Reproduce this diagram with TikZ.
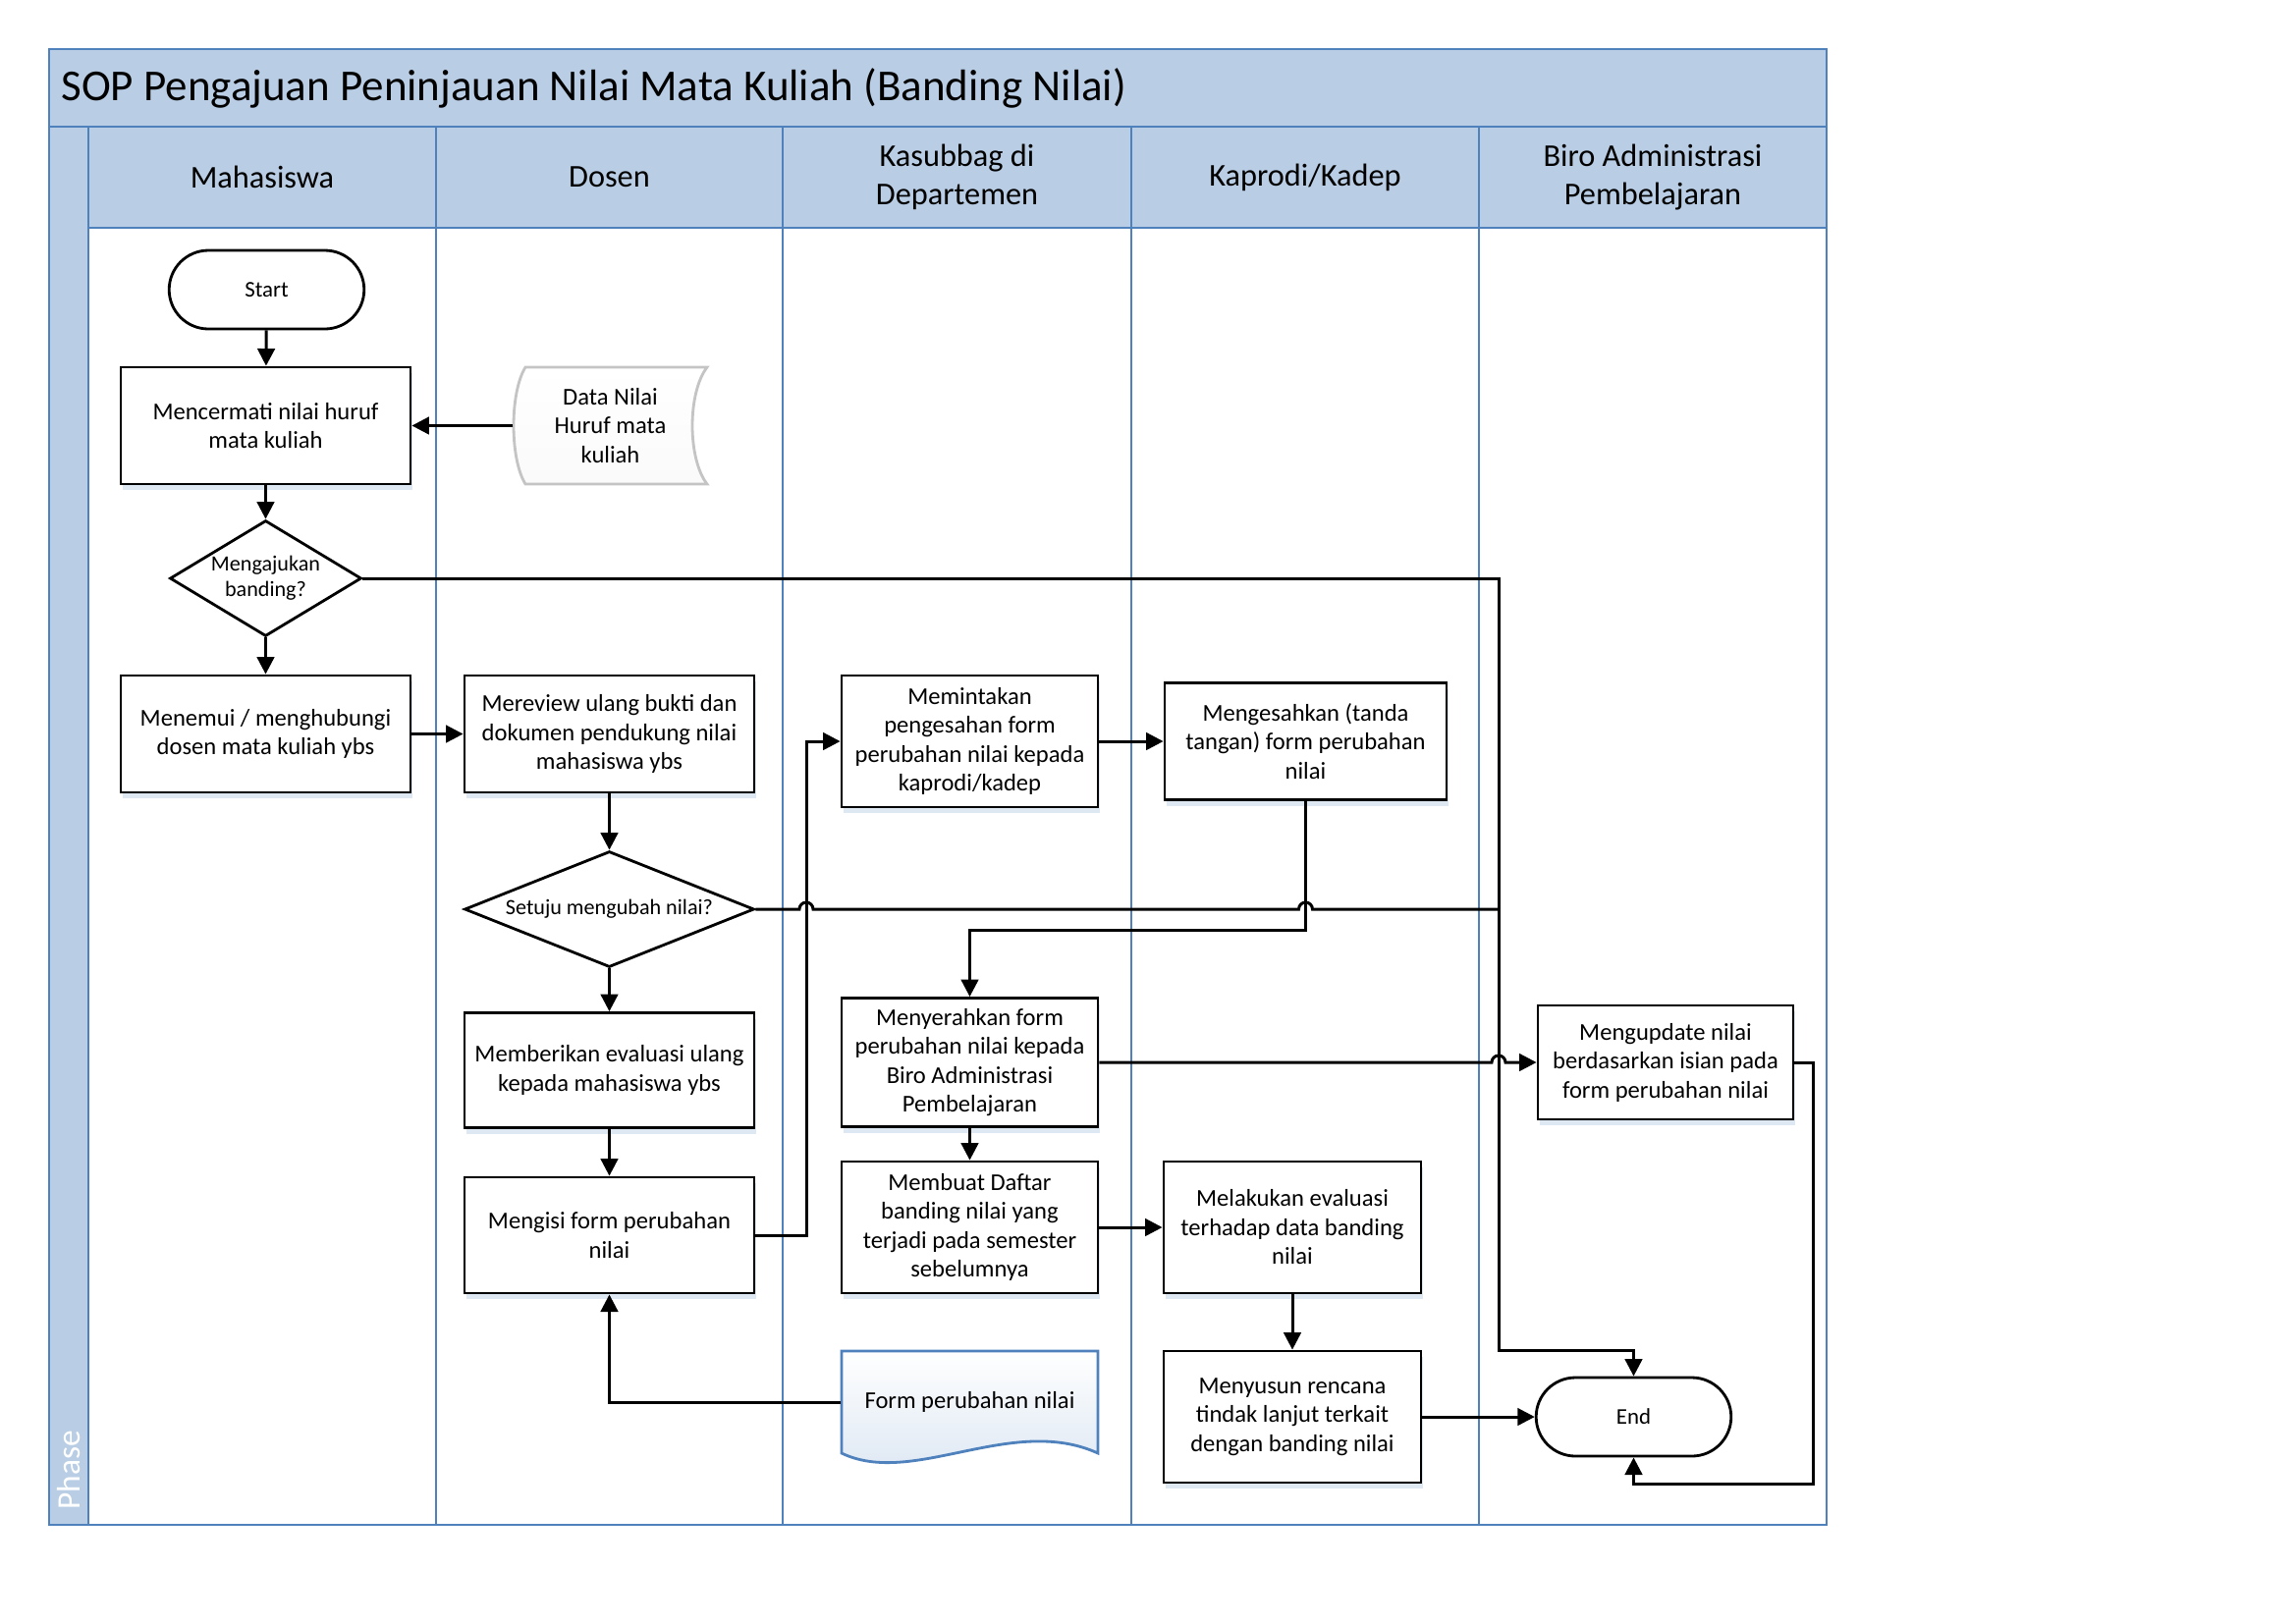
\documentclass[tikz,border=0pt]{standalone}
\usepackage{fontspec}
\setmainfont{Carlito}
\usetikzlibrary{arrows.meta,shapes.geometric,shapes.misc,calc,shadows}
\definecolor{lanefill}{RGB}{185,205,229}
\definecolor{laneline}{RGB}{79,129,189}
\definecolor{docgrey}{RGB}{196,196,196}
\definecolor{docblue}{RGB}{218,229,242}
\definecolor{shadowblue}{RGB}{222,232,243}

\begin{document}
\begin{tikzpicture}[
    box/.style={draw, line width=0.8pt, fill=white, align=center, inner sep=1pt,
        font=\fontsize{7}{8.4}\selectfont,
        drop shadow={shadow xshift=0.5pt, shadow yshift=-1.8pt, fill=shadowblue, opacity=1}},
    term/.style={rounded rectangle, draw, line width=0.8pt, fill=white,
        minimum width=2.22cm, minimum height=0.80cm, font=\fontsize{6.5}{8}\selectfont},
    decision/.style={diamond, draw, line width=0.8pt, fill=white, inner sep=0pt,
        align=center, font=\fontsize{6.3}{7.4}\selectfont},
    doctext/.style={align=center, inner sep=0pt, font=\fontsize{7}{8.4}\selectfont},
    lane/.style={draw=laneline, line width=0.8pt},
    thinlane/.style={draw=laneline, line width=0.5pt},
    head/.style={align=center, font=\fontsize{9.2}{11}\selectfont},
    line/.style={line width=0.85pt},
    flow/.style={line width=0.85pt, -{Triangle[length=5pt,width=5pt]}}
]
\useasboundingbox (0,0) rectangle (23.38,-16.53);

\fill[lanefill] (0.50,-0.50) rectangle (18.60,-2.32);
\fill[lanefill] (0.50,-2.32) rectangle (0.90,-15.53);
\draw[lane] (0.50,-0.50) rectangle (18.60,-15.53);
\draw[lane] (0.50,-1.29) -- (18.60,-1.29);
\draw[lane] (0.90,-2.32) -- (18.60,-2.32);
\draw[lane] (0.90,-1.29) -- (0.90,-15.53);
\draw[thinlane] (4.44,-1.29) -- (4.44,-15.53);
\draw[thinlane] (7.97,-1.29) -- (7.97,-15.53);
\draw[thinlane] (11.52,-1.29) -- (11.52,-15.53);
\draw[thinlane] (15.06,-1.29) -- (15.06,-15.53);

\node[anchor=west, font=\fontsize{12.8}{15}\selectfont] (judul) at (0.50,-0.895) {SOP Pengajuan Peninjauan Nilai Mata Kuliah (Banding Nilai)};
\node[head] (mhs) at (2.67,-1.805) {Mahasiswa};
\node[head] (dosen) at (6.205,-1.805) {Dosen};
\node[head] (kasubbag) at (9.745,-1.805) {Kasubbag di\\Departemen};
\node[head] (kaprodi) at (13.29,-1.805) {Kaprodi/Kadep};
\node[head] (biro) at (16.83,-1.805) {Biro Administrasi\\Pembelajaran};
\node[rotate=90, anchor=west, text=white, font=\fontsize{9.5}{11}\selectfont] (phase) at (0.70,-15.50) {Phase};

\draw[draw=docgrey, line width=0.8pt, top color=white, bottom color=gray!4]
    (5.35,-3.74) -- (7.20,-3.74) .. controls (7.00,-4.00) and (7.00,-4.67) .. (7.20,-4.93)
    -- (5.35,-4.93) .. controls (5.19,-4.67) and (5.19,-4.00) .. cycle;
\draw[draw=laneline, line width=0.8pt, top color=white, bottom color=docblue]
    (8.57,-13.76) -- (11.18,-13.76) -- (11.18,-14.80)
    .. controls (10.30,-14.40) and (9.30,-15.15) .. (8.57,-14.80) -- cycle;

\node[term] (start) at (2.715,-2.95) {Start};
\node[box, minimum width=2.95cm, minimum height=1.19cm] (cermat) at (2.705,-4.335) {Mencermati nilai huruf\\mata kuliah};
\node[doctext, minimum width=1.97cm, minimum height=1.19cm] (data) at (6.215,-4.335) {Data Nilai\\Huruf mata\\kuliah};
\node[decision, minimum width=1.95cm, minimum height=1.18cm, aspect=1.65] (ajukan) at (2.705,-5.89) {Mengajukan\\banding?};
\node[box, minimum width=2.95cm, minimum height=1.19cm] (temui) at (2.705,-7.475) {Menemui / menghubungi\\dosen mata kuliah ybs};
\node[box, minimum width=2.95cm, minimum height=1.19cm] (review) at (6.205,-7.475) {Mereview ulang bukti dan\\dokumen pendukung nilai\\mahasiswa ybs};
\node[decision, minimum width=2.95cm, minimum height=1.18cm, aspect=2.5] (setuju) at (6.205,-9.26) {Setuju mengubah nilai?};
\node[box, minimum width=2.95cm, minimum height=1.17cm] (beri) at (6.205,-10.90) {Memberikan evaluasi ulang\\kepada mahasiswa ybs};
\node[box, minimum width=2.95cm, minimum height=1.18cm] (isi) at (6.205,-12.58) {Mengisi form perubahan\\nilai};
\node[box, minimum width=2.61cm, minimum height=1.34cm] (minta) at (9.875,-7.55) {Memintakan\\pengesahan form\\perubahan nilai kepada\\kaprodi/kadep};
\node[box, minimum width=2.87cm, minimum height=1.19cm] (sahkan) at (13.295,-7.55) {Mengesahkan (tanda\\tangan) form perubahan\\nilai};
\node[box, minimum width=2.61cm, minimum height=1.31cm] (serah) at (9.875,-10.82) {Menyerahkan form\\perubahan nilai kepada\\Biro Administrasi\\Pembelajaran};
\node[box, minimum width=2.61cm, minimum height=1.34cm] (buat) at (9.875,-12.50) {Membuat Daftar\\banding nilai yang\\terjadi pada semester\\sebelumnya};
\node[doctext, minimum width=2.61cm, minimum height=1.04cm] (form) at (9.875,-14.28) {Form perubahan nilai};
\node[box, minimum width=2.62cm, minimum height=1.34cm] (evaluasi) at (13.16,-12.50) {Melakukan evaluasi\\terhadap data banding\\nilai};
\node[box, minimum width=2.62cm, minimum height=1.34cm] (susun) at (13.16,-14.43) {Menyusun rencana\\tindak lanjut terkait\\dengan banding nilai};
\node[box, minimum width=2.60cm, minimum height=1.16cm] (update) at (16.96,-10.82) {Mengupdate nilai\\berdasarkan isian pada\\form perubahan nilai};
\node[term] (end) at (16.635,-14.43) {End};

\coordinate (bus) at (15.26,-13.75);
\coordinate (loop) at (8.21,-7.55);
\coordinate (sah) at (13.295,-9.47);
\coordinate (back) at (18.46,-15.11);

\draw[flow] (start) -- (cermat);
\draw[flow] (data) -- (cermat);
\draw[flow] (cermat) -- (ajukan);
\draw[flow] (ajukan) -- (temui);
\draw[flow] (ajukan.east) -| (bus) -| (end);
\draw[flow] (temui) -- (review);
\draw[flow] (review) -- (setuju);
\draw[line] (setuju.east) -- ($(setuju.east -| loop)+(-0.07,0)$) arc[start angle=180, end angle=0, radius=0.07]
    -- ($(setuju.east -| sah)+(-0.07,0)$) arc[start angle=180, end angle=0, radius=0.07]
    -- (setuju.east -| bus);
\draw[flow] (setuju) -- (beri);
\draw[flow] (beri) -- (isi);
\draw[flow] (isi.east) -| (loop) -- (minta);
\draw[flow] (minta) -- (sahkan);
\draw[flow] (sahkan) -- (sah) -| (serah);
\draw[flow] (serah.east) -- ($(serah.east -| bus)+(-0.07,0)$) arc[start angle=180, end angle=0, radius=0.07]
    -- (update.west |- serah.east);
\draw[flow] (serah) -- (buat);
\draw[flow] (buat) -- (evaluasi);
\draw[flow] (evaluasi) -- (susun);
\draw[flow] (susun) -- (end);
\draw[flow] (update.east) -| (back) -| (end);
\draw[flow] (form.west) -| (isi);
\end{tikzpicture}
\end{document}
